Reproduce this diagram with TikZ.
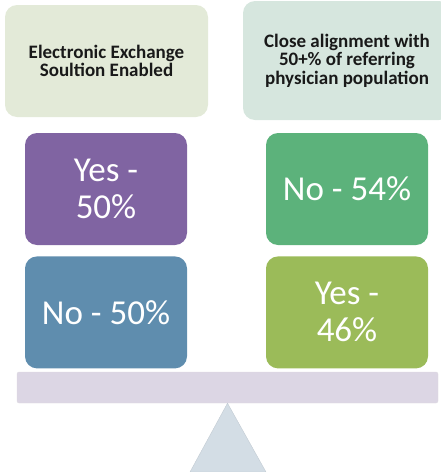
\documentclass[tikz,border=0pt]{standalone}
\usepackage{fontspec}
\setmainfont{Carlito}
\usepackage{xcolor}
\usetikzlibrary{positioning}
\definecolor{headL}{HTML}{E3EAD8}
\definecolor{headR}{HTML}{D6E6DE}
\definecolor{yesL}{HTML}{8064A2}
\definecolor{noL}{HTML}{5F8DAE}
\definecolor{noR}{HTML}{5CB27B}
\definecolor{yesR}{HTML}{9BBB59}
\definecolor{beamC}{HTML}{DCD6E4}
\definecolor{pivotC}{HTML}{D3DDE5}

\begin{document}
\begin{tikzpicture}[x=1pt,y=-1pt,
		head/.style={rounded corners=12pt,align=center,inner sep=0pt,text=black!90,
			font=\fontsize{19}{18.5}\selectfont\bfseries},
		vote/.style={rounded corners=12pt,align=center,inner sep=0pt,text=white,
			minimum width=162pt,minimum height=112pt,font=\fontsize{35}{37}\selectfont}]
				\useasboundingbox (0,0) rectangle (441,472);
				\clip (0,0) rectangle (441,472);
				\node[head,fill=headL,minimum width=203pt,minimum height=112pt] (exch) at (106.5,61) {Electronic Exchange\\Soultion Enabled};
				\node[head,fill=headR,minimum width=208pt,minimum height=119pt] (align) at (347,60.5) {Close alignment with\\50+\% of referring\\physician population};
				\node[vote,fill=yesL] (yesA) at (106,189) {Yes -\\50\%};
				\node[vote,fill=noR] (noB) at (347,189) {No - 54\%};
				\node[vote,fill=noL,below=11pt of yesA] (noA) {No - 50\%};
				\node[vote,fill=yesR,below=11pt of noB] (yesB) {Yes -\\46\%};
				\node[fill=beamC,draw=beamC!90!black!60,rounded corners=2pt,minimum width=421pt,minimum height=31pt,inner sep=0pt] (beam) at (227.5,387.5) {};
				\filldraw[fill=pivotC,draw=pivotC!92!black] (beam.south) -- (190,472) -- (266,472) -- cycle;
			\end{tikzpicture}
\end{document}
